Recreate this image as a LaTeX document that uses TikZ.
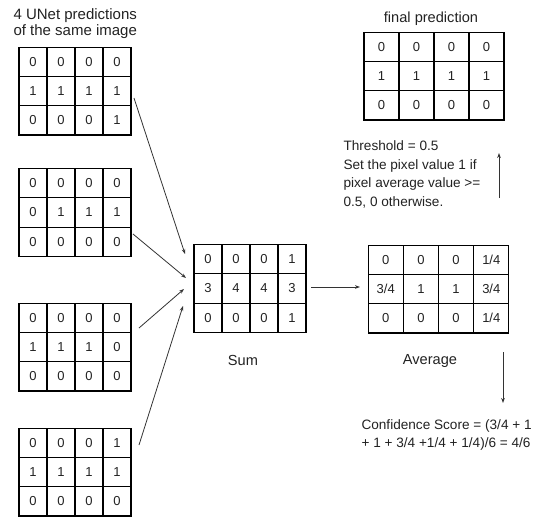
\documentclass[tikz,border=0pt]{standalone}
\usepackage{fontspec}
\setmainfont{Liberation Sans}
\usetikzlibrary{matrix,arrows.meta}

\definecolor{ink}{HTML}{222222}
\definecolor{wire}{HTML}{333333}

\tikzset{
  cellgrid/.style={
    matrix of nodes, inner sep=0pt, outer sep=0pt,
    column sep=-\pgflinewidth, row sep=-\pgflinewidth,
    nodes={draw=black, inner sep=0pt, anchor=center, text=ink,
           font=\fontsize{13}{15}\selectfont,
           minimum width=#1, minimum height=29.3pt}
  },
  cellgrid/.default=28pt,
  label/.style={inner sep=0pt, text=ink, font=\fontsize{14.6}{17}\selectfont},
  note/.style={inner sep=0pt, text=ink, align=left,
               font=\fontsize{13.6}{18.7}\selectfont},
  flow/.style={draw=wire, line width=0.8pt,
               -{Stealth[length=5pt,width=3.6pt]}}
}

\begin{document}
\begin{tikzpicture}[x=1pt, y=-1pt, line width=1.1pt]
\useasboundingbox (0,0) rectangle (539,517);

% the four input predictions (base anchor = baseline of the last line)
\node[label, anchor=base west, align=left,
      font=\fontsize{15}{16.5}\selectfont] (title) at (13,35.5)
  {4 UNet predictions\\of the same image};

\matrix (g1) at (75,91) [cellgrid] {
  0 & 0 & 0 & 0 \\
  1 & 1 & 1 & 1 \\
  0 & 0 & 0 & 1 \\
};
\matrix (g2) at (75,212.5) [cellgrid] {
  0 & 0 & 0 & 0 \\
  0 & 1 & 1 & 1 \\
  0 & 0 & 0 & 0 \\
};
\matrix (g3) at (75,347) [cellgrid] {
  0 & 0 & 0 & 0 \\
  1 & 1 & 1 & 0 \\
  0 & 0 & 0 & 0 \\
};
\matrix (g4) at (75,472) [cellgrid] {
  0 & 0 & 0 & 1 \\
  1 & 1 & 1 & 1 \\
  0 & 0 & 0 & 0 \\
};

% sum of the predictions
\matrix (sum) at (250,288.5) [cellgrid] {
  0 & 0 & 0 & 1 \\
  3 & 4 & 4 & 3 \\
  0 & 0 & 0 & 1 \\
};
\node[label, anchor=base] (sumlabel) at (243,365) {Sum};

% average of the predictions
\matrix (avg) at (438.5,289) [cellgrid=35.2pt] {
  0   & 0 & 0 & 1/4 \\
  3/4 & 1 & 1 & 3/4 \\
  0   & 0 & 0 & 1/4 \\
};
\node[label, anchor=base] (avglabel) at (430,364) {Average};

% thresholded result
\node[label, anchor=base] (finallabel) at (431,22) {final prediction};
\matrix (final) at (434,76) [cellgrid=35pt] {
  0 & 0 & 0 & 0 \\
  1 & 1 & 1 & 1 \\
  0 & 0 & 0 & 0 \\
};

\node[note, anchor=base west] (rule) at (343,206.6)
  {Threshold = 0.5\\Set the pixel value 1 if\\pixel average value >=\\0.5, 0 otherwise.};

\node[note, anchor=base west] (conf) at (361,447.7)
  {Confidence Score = (3/4 + 1\\+ 1 + 3/4 +1/4 + 1/4)/6 = 4/6};

% connector end points
\coordinate (s1) at (134,98);   \coordinate (e1) at (185,254);
\coordinate (s2) at (133,234);  \coordinate (e2) at (186,278);
\coordinate (s3) at (139,328);  \coordinate (e3) at (184,289);
\coordinate (s4) at (139,445);  \coordinate (e4) at (183,306);
\coordinate (s5) at (311,287);  \coordinate (e5) at (360,287);
\coordinate (s6) at (503,352);  \coordinate (e6) at (503,403);
\coordinate (s7) at (499,198);  \coordinate (e7) at (499,153);

\draw[flow] (s1) -- (e1);
\draw[flow] (s2) -- (e2);
\draw[flow] (s3) -- (e3);
\draw[flow] (s4) -- (e4);
\draw[flow] (s5) -- (e5);
\draw[flow] (s6) -- (e6);
\draw[flow] (s7) -- (e7);
\end{tikzpicture}
\end{document}
